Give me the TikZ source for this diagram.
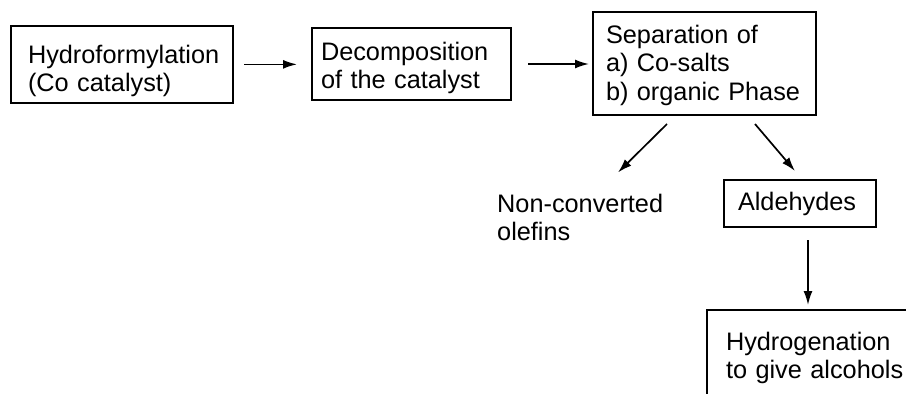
\documentclass[tikz,border=0pt]{standalone}
\usepackage{fontspec}
\setmainfont{Liberation Sans}
\usetikzlibrary{arrows.meta,calc}
\tikzset{
  box/.style={draw, line width=1.6pt, anchor=north west, outer sep=0pt,
    inner ysep=0pt, align=left},
  plain/.style={inner sep=0pt, align=left},
  arr/.style={line width=1.7pt, -{Latex[length=14pt,width=9pt]}}
}
\begin{document}
\begin{tikzpicture}[x=1pt,y=-1pt,font=\fontsize{25.3}{28.6}\selectfont]
\useasboundingbox (0,0) rectangle (906,394);
\clip (0,0) rectangle (906,394);
\node[box, inner xsep=17.3pt, text width=187.7pt, text height=37.3pt, text depth=40pt]
  (b1) at (10.7,25.7) {Hydroformylation\\(Co catalyst)};
\node[box, inner xsep=9pt, text width=181pt, text height=32pt, text depth=40pt]
  (b2) at (312,28) {Decomposition\\of the catalyst};
\node[box, inner xsep=13pt, text width=197pt, text height=31pt, text depth=72pt]
  (b3) at (593,12) {Separation of\\a) Co-salts\\b) organic Phase};
\node[plain, anchor=base west, text width=180pt] (nc) at (497,212) {Non-converted\\olefins};
\node[box, inner xsep=14pt, text width=124pt, text height=30pt, text depth=17pt]
  (ald) at (724,180) {Aldehydes};
\node[box, inner xsep=19pt, text width=185pt, text height=40pt, text depth=70pt]
  (hyd) at (707,310) {Hydrogenation\\to give alcohols};
\draw[arr, shorten <=11pt, shorten >=15pt] (b1.east) -- (b1.east -| b2.west);
\draw[arr, shorten <=17pt, shorten >=4pt] (b2.east) -- (b2.east -| b3.west);
\draw[arr] ($(b3.south)+(-37.5,9)$) -- ($(nc.north west)+(121,-21)$);
\draw[arr] ($(b3.south)+(50.5,9)$) -- ($(ald.north)+(-5,-9)$);
\draw[arr] ($(ald.south)+(8,13)$) -- ($(hyd.north west)+(101,-5)$);
\end{tikzpicture}
\end{document}
